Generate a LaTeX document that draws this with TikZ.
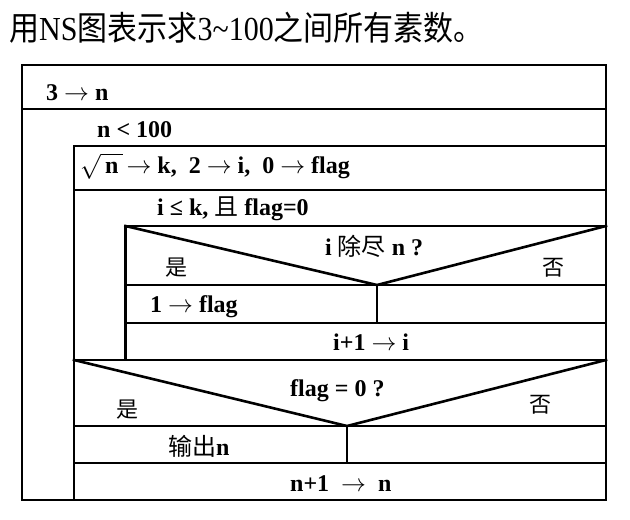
\documentclass[tikz,border=0pt]{standalone}
\usepackage{fontspec}
\usepackage{graphicx}
\setmainfont{Liberation Serif}
\newfontfamily\cjk{Noto Sans CJK SC}
\newcommand{\arr}{\ensuremath{\rightarrow}}
\tikzset{
  ns/.style={line width=2.6pt, line join=miter, line cap=rect},
  lbl/.style={inner sep=0pt, anchor=base west, font=\bfseries\fontsize{24}{24}\selectfont},
  cj/.style={inner sep=0pt, font=\cjk\fontsize{22}{22}\selectfont},
  ttl/.style={inner sep=0pt, anchor=base west, font=\fontsize{30}{30}\selectfont}
}
\begin{document}
\begin{tikzpicture}[x=1pt,y=-1pt]
\useasboundingbox (0,0) rectangle (630,520);
\node[ttl] (title) at (9,40.5) {\scalebox{1}[1.12]{{\cjk 用}NS{\cjk 图表示求}3\textasciitilde100{\cjk 之间所有素数。}}};
% frame
\draw[ns] (22,65) rectangle (606,500);
\draw[ns] (22,109) -- (606,109);
\draw[ns] (606,146) -- (74,146) -- (74,500);
\draw[ns] (74,190) -- (606,190);
\draw[ns] (606,226) -- (125.5,226) -- (125.5,360);
\draw[ns] (125.5,226) -- (377,285) -- (606,226);
\draw[ns] (125.5,285) -- (606,285);
\draw[ns] (377,285) -- (377,323);
\draw[ns] (125.5,323) -- (606,323);
\draw[ns] (74,360) -- (606,360);
\draw[ns] (74,360) -- (347,426) -- (606,360);
\draw[ns] (74,426) -- (606,426);
\draw[ns] (347,426) -- (347,463);
\draw[ns] (74,463) -- (606,463);
% texts
\node[lbl] (t1) at (46,100.5) {3 \arr\ n};
\node[lbl] (t2) at (97,137) {n < 100};
\node[lbl] (t3) at (80,173) {$\sqrt{\,\textbf{n}\,}$\,\arr\ k,\ \ 2 \arr\ i,\ \ 0 \arr\ flag};
\node[lbl] (t4) at (157,215) {i ≤ k, {\cjk\mdseries 且} flag=0};
\node[lbl] (t5) at (325,255) {i {\cjk\mdseries 除尽} n ?};
\node[cj] (y1) at (176,268) {是};
\node[cj] (n1) at (553,268) {否};
\node[lbl] (t6) at (150,312) {1 \arr\ flag};
\node[lbl] (t7) at (333,350) {i+1 \arr\ i};
\node[lbl] (t8) at (290,396) {flag = 0 ?};
\node[cj] (y2) at (127,410) {是};
\node[cj] (n2) at (540,405) {否};
\node[lbl] (t9) at (168,455) {{\cjk\mdseries 输出}n};
\node[lbl] (t10) at (290,491.5) {n+1 \ \arr\ \ n};
\end{tikzpicture}
\end{document}
